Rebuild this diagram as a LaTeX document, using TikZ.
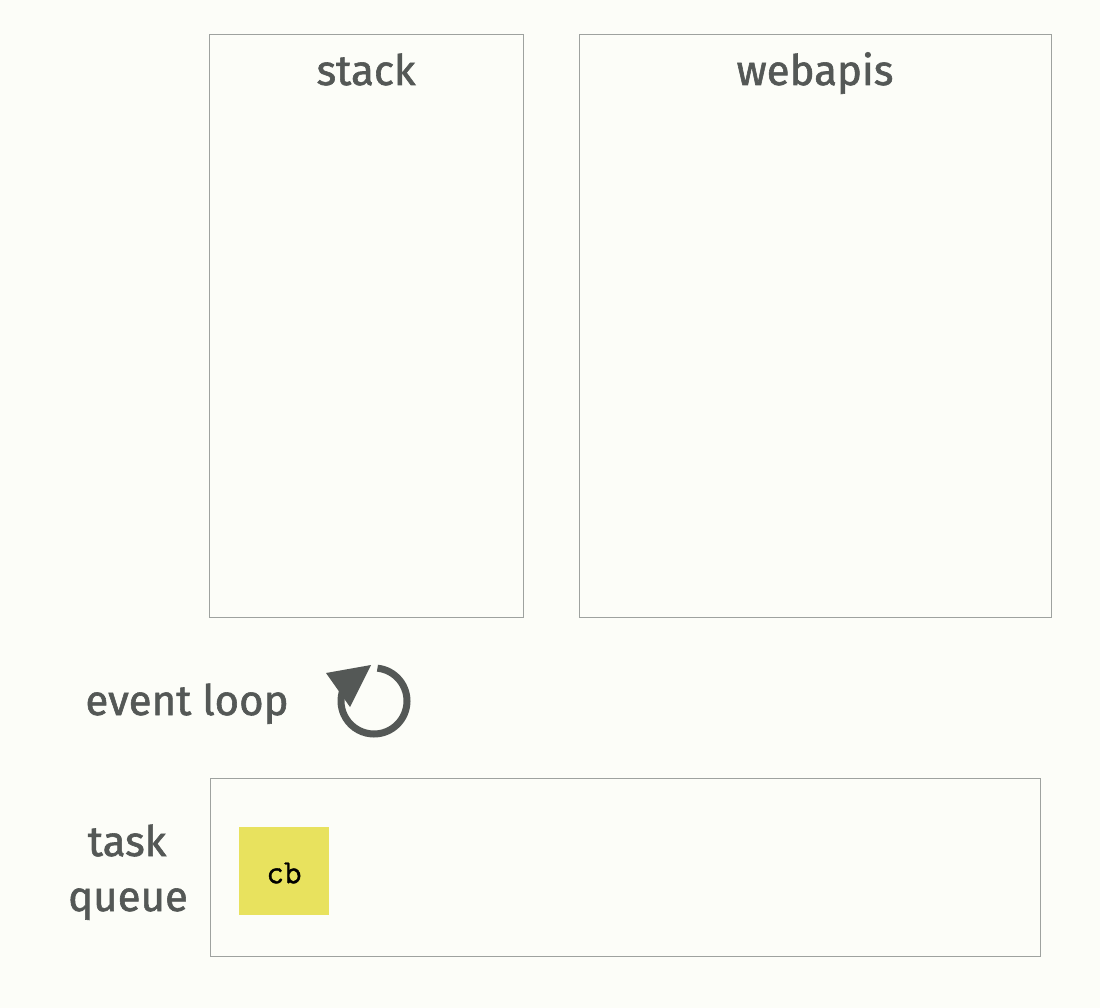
\documentclass[tikz,border=0pt]{standalone}
\usepackage{fontspec}
\usetikzlibrary{calc}
\setmainfont{Fira Sans}
\newfontfamily\titlefont{Fira Sans}[FakeBold=1.4]
\newfontfamily\cbmono{Latin Modern Mono}[FakeBold=1.2]
\definecolor{bgc}{HTML}{FCFDF8}
\definecolor{linec}{HTML}{9EA29F}
\definecolor{txtc}{HTML}{545856}
\definecolor{cbyellow}{HTML}{E8E25E}
\begin{document}
\begin{tikzpicture}[x=1pt,y=-1pt,
  panel/.style={draw=linec,line width=0.9pt},
  title/.style={text=txtc,font=\titlefont\fontsize{42}{50}\selectfont,inner sep=0pt,anchor=base},
  cbbox/.style={fill=cbyellow,draw=none}]
\fill[bgc] (0,0) rectangle (1100,1008);
\useasboundingbox (0,0) rectangle (1100,1008);
% stack
\draw[panel] (209,34) rectangle (523,617);
\node[title] (stacktitle) at (366,85) {stack};
% webapis
\draw[panel] (579,34) rectangle (1051,617);
\node[title] (webtitle) at (815,85) {webapis};
% event loop
\node[title] (evtitle) at (187,715) {event loop};
\coordinate (lc) at (374,701);
\draw[txtc,line width=7pt] ($(lc)+(-84:33)$) arc[start angle=-84,end angle=200,radius=33];
\fill[txtc] (326,673) -- (371,665) -- (350,707) -- cycle;
% task queue
\draw[panel] (210,778) rectangle (1040,956);
\node[title] (tasktitle) at (127,856) {task};
\node[title] (queuetitle) at (128,911) {queue};
\fill[cbyellow] (239,827) rectangle (329,915);
\node[font=\cbmono\fontsize{34}{38}\selectfont,inner sep=0pt] (cb) at (284,873) {cb};
\end{tikzpicture}
\end{document}
